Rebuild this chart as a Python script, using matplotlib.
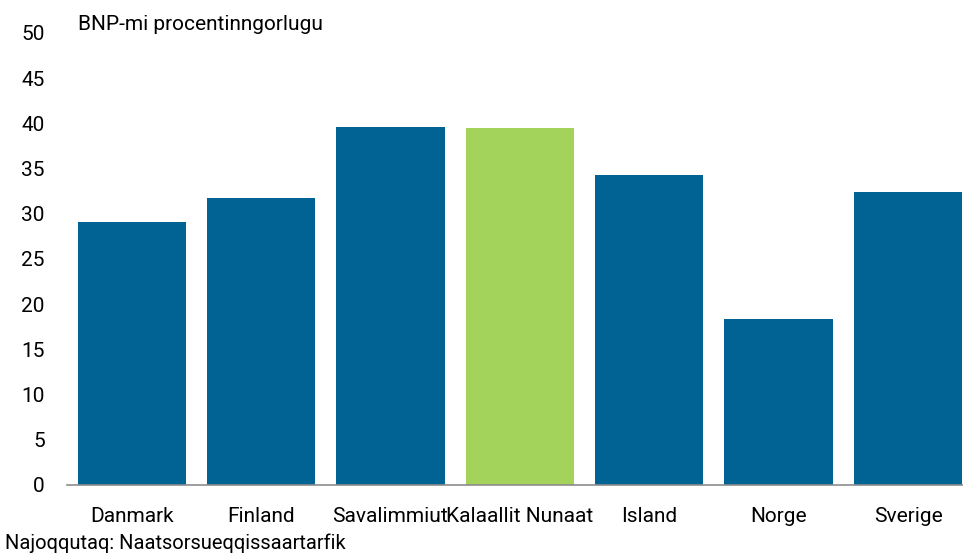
import matplotlib
matplotlib.use('Agg')
import matplotlib.pyplot as plt

categories = ['Danmark', 'Finland', 'Savalimmiut', 'Kalaallit Nunaat', 'Island', 'Norge', 'Sverige']
values = [29.1, 31.7, 39.6, 39.5, 34.3, 18.4, 32.4]
highlight = 'Kalaallit Nunaat'
yticks = list(range(0, 51, 5))

plt.rcParams['font.family'] = ['Roboto', 'DejaVu Sans']
blue = '#006394'
green = '#a3d35a'

fig = plt.figure(figsize=(9.63, 5.57), dpi=100)
# axes runs slightly past the right edge, like the original
ax = fig.add_axes([67/963, (557-485)/557, (972.7-67)/963, 452/557])
colors = [green if c == highlight else blue for c in categories]
ax.bar(range(len(categories)), values, width=0.837, color=colors)

ax.set_xlim(-0.5, len(categories) - 0.5)
ax.set_ylim(0, 50)
ax.set_yticks(yticks)
ax.set_xticks(range(len(categories)))
ax.set_xticklabels(categories, fontsize=15)
ax.tick_params(axis='y', length=0, labelsize=15, pad=16)
ax.tick_params(axis='x', length=0, pad=16)
for s in ['top', 'right', 'left']:
    ax.spines[s].set_visible(False)
ax.spines['bottom'].set_color('#8c8c8c')
ax.spines['bottom'].set_linewidth(1.2)

fig.text(78/963, 1 - 25/557, 'BNP-mi procentinngorlugu', fontsize=15, va='center')
fig.text(5/963, 1 - 543/557, 'Najoqqutaq: Naatsorsueqqissaartarfik', fontsize=14.5, va='center')

fig.savefig('out.png', dpi=100)
